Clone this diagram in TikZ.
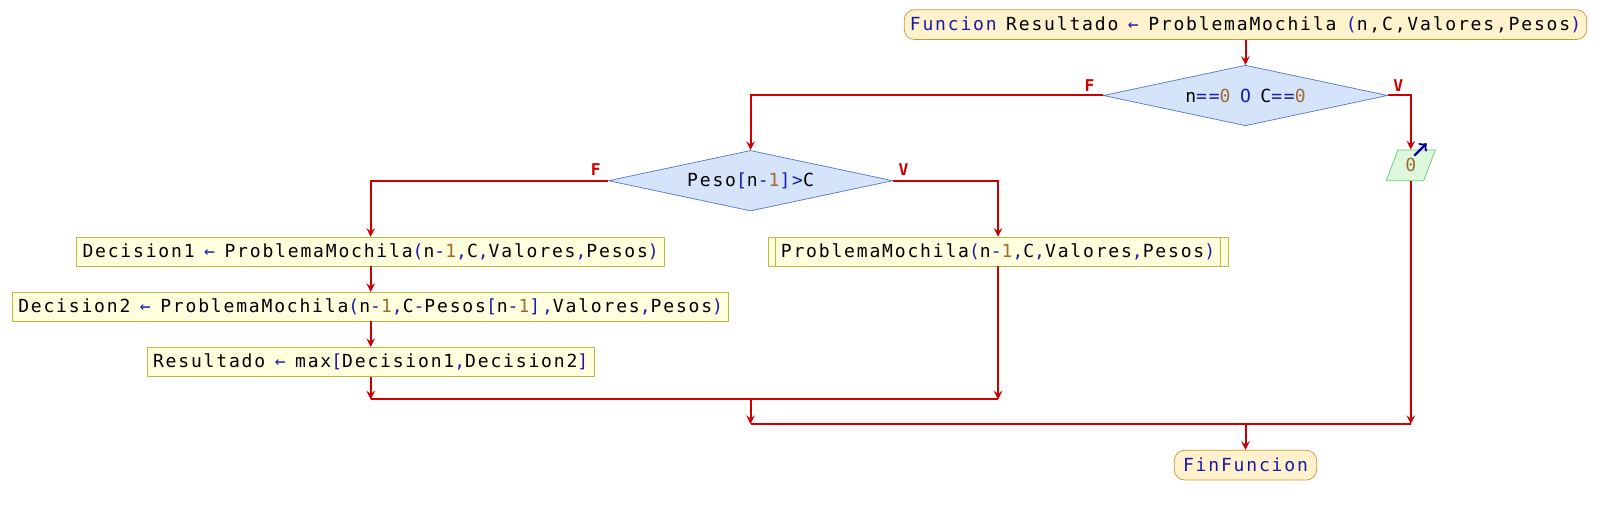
\documentclass[tikz,border=0pt]{standalone}
\usepackage{fontspec}
\setmonofont[LetterSpace=10,WordSpace=0.75]{DejaVu Sans Mono}
\usepackage{xcolor}
\usetikzlibrary{shapes,arrows,positioning}

\definecolor{flowred}{HTML}{CC0000}
\definecolor{opblue}{HTML}{1A1AAA}
\definecolor{numbrown}{HTML}{A06A2C}
\definecolor{termfill}{HTML}{FFF2CC}
\definecolor{termborder}{HTML}{CC9433}
\definecolor{diafill}{HTML}{D5E3FB}
\definecolor{diaborder}{HTML}{5577CC}
\definecolor{boxfill}{HTML}{FFFFDD}
\definecolor{boxborder}{HTML}{BBBB44}
\definecolor{outfill}{HTML}{DDF8DD}
\definecolor{outborder}{HTML}{66CC66}
\definecolor{iconblue}{HTML}{000099}

\newcommand{\opc}[1]{\textcolor{opblue}{#1}}
\newcommand{\numc}[1]{\textcolor{numbrown}{#1}}

\begin{document}
\begin{tikzpicture}[
    x=0.02cm, y=-0.02cm,
    font=\ttfamily\fontsize{10}{12}\selectfont,
    terminal/.style={rectangle, draw=termborder, fill=termfill, rounded corners=0.2cm, minimum height=0.58cm, inner xsep=0.17cm},
    decision/.style={diamond, draw=diaborder, fill=diafill, minimum width=5.54cm, minimum height=1.18cm, aspect=4.7, inner sep=0pt},
    assign/.style={rectangle, draw=boxborder, fill=boxfill, minimum height=0.56cm, inner xsep=0.11cm},
    subcall/.style={assign, inner xsep=0.25cm, path picture={
        \draw[boxborder] ([xshift=0.14cm]path picture bounding box.north west) -- ([xshift=0.14cm]path picture bounding box.south west);
        \draw[boxborder] ([xshift=-0.14cm]path picture bounding box.north east) -- ([xshift=-0.14cm]path picture bounding box.south east);}},
    output/.style={trapezium, trapezium left angle=70, trapezium right angle=110, trapezium stretches=true, draw=outborder, fill=outfill, minimum width=0.96cm, minimum height=0.6cm, inner sep=0pt},
    flag/.style={text=flowred, font=\ttfamily\bfseries\fontsize{9}{10}\selectfont, inner sep=0pt},
    arrow/.style={->, >=stealth, flowred, line width=1.1pt},
    joint/.style={flowred, line width=1.1pt}
]
    \useasboundingbox (0,0) rectangle (1568,502);

    \node[terminal, inner xsep=0.11cm] (start) at (1213,24) {\opc{Funcion} Resultado \opc{←} ProblemaMochila \opc{(}n,C,Valores,Pesos\opc{)}};
    \node[decision] (cond1) at (1213,93) {n\opc{==}\numc{0} \opc{O} C\opc{==}\numc{0}};
    \node[output] (ret) at (1374,161) {\numc{0}};
    \node[decision] (cond2) at (731,176) {Peso\opc{[}n\opc{-}\numc{1}\opc{]>}C};
    \node[assign] (dec1) at (361,245) {Decision1 \opc{←} ProblemaMochila\opc{(}n\opc{-}\numc{1}\opc{,}C\opc{,}Valores\opc{,}Pesos\opc{)}};
    \node[assign, below=0.5cm of dec1] (dec2) {Decision2 \opc{←} ProblemaMochila\opc{(}n\opc{-}\numc{1}\opc{,}C\opc{-}Pesos\opc{[}n\opc{-}\numc{1}\opc{],}Valores\opc{,}Pesos\opc{)}};
    \node[assign, below=0.5cm of dec2] (res) {Resultado \opc{←} max\opc{[}Decision1\opc{,}Decision2\opc{]}};
    \node[subcall] (sub) at (972,245) {ProblemaMochila\opc{(}n\opc{-}\numc{1}\opc{,}C\opc{,}Valores\opc{,}Pesos\opc{)}};
    \node[terminal] (finish) at (1213,453) {\opc{FinFuncion}};

    \node[flag] (f1) at ([xshift=-0.26cm,yshift=0.2cm]cond1.west) {F};
    \node[flag] (v1) at ([xshift=0.2cm,yshift=0.2cm]cond1.east) {V};
    \node[flag] (f2) at ([xshift=-0.24cm,yshift=0.22cm]cond2.west) {F};
    \node[flag] (v2) at ([xshift=0.2cm,yshift=0.22cm]cond2.east) {V};

    \coordinate (join2l) at (361,389);
    \coordinate (join2r) at (972,389);
    \coordinate (join2) at (731,389);
    \coordinate (join1l) at (731,413);
    \coordinate (join1r) at (1374,413);
    \coordinate (join1) at (1213,413);

    \draw[-to, iconblue, line width=1.3pt] ([xshift=-0.24cm,yshift=-0.12cm]ret.north east) -- ++(12,-12);

    \draw[joint] (join2l) -- (join2r);
    \draw[joint] (join1l) -- (join1r);
    \draw[arrow] (start) -- (cond1);
    \draw[arrow] (cond1.west) -| (cond2.north);
    \draw[arrow] (cond1.east) -| (ret.north);
    \draw[arrow] (cond2.west) -| (dec1.north);
    \draw[arrow] (cond2.east) -| (sub.north);
    \draw[arrow] (dec1) -- (dec2);
    \draw[arrow] (dec2) -- (res);
    \draw[arrow] (res) -- (join2l);
    \draw[arrow] (sub) -- (join2r);
    \draw[arrow] (join2) -- (join1l);
    \draw[arrow] (ret) -- (join1r);
    \draw[arrow] (join1) -- (finish);
\end{tikzpicture}
\end{document}
